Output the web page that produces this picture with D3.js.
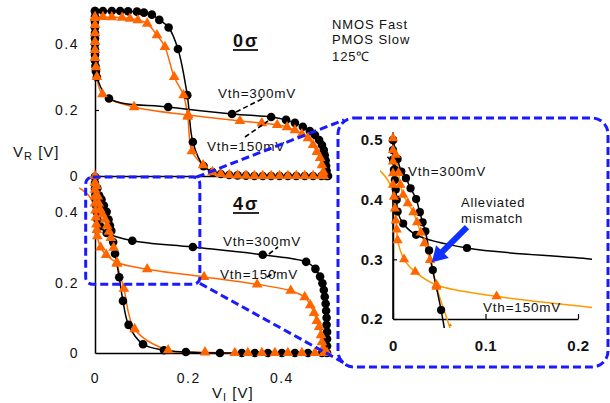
<!DOCTYPE html>
<html>
<head>
<meta charset="utf-8">
<script src="https://cdn.jsdelivr.net/npm/d3@7"></script>
<style>
body { margin: 0; background: #fff; }
text { font-family: "Liberation Sans", Arial, sans-serif; }
</style>
</head>
<body>
<div id="chart"></div>
<script>
// ---- data: [VI, VR] in volts ----
// 0 sigma, Vth = 300mV (black)
var s0_300_inv1 = [[0,0.5],[0.017,0.5],[0.036,0.5],[0.054,0.5],[0.071,0.499],[0.09,0.498],[0.105,0.495],[0.122,0.489],
  [0.138,0.473],[0.158,0.45],[0.178,0.385],[0.198,0.245],[0.21,0.103],[0.233,0.03],[0.252,0.012],[0.27,0.006],
  [0.288,0.003],[0.306,0.002],[0.324,0.001],[0.342,0],[0.36,0],[0.378,0],[0.396,0],[0.414,0],[0.432,0],[0.45,0],
  [0.468,0],[0.486,0],[0.5,0]];
var s0_300_inv2 = [[0,0.5],[0,0.483],[0,0.467],[0,0.45],[0,0.433],[0,0.417],[0,0.4],[0,0.383],[0,0.367],[0,0.35],
  [0.001,0.333],[0.002,0.317],[0.004,0.3],[0.03,0.235],[0.157,0.209],[0.294,0.188],[0.378,0.179],[0.41,0.17],
  [0.429,0.161],[0.446,0.149],[0.461,0.136],[0.472,0.124],[0.481,0.109],[0.487,0.094],[0.491,0.079],[0.493,0.063],
  [0.495,0.047],[0.496,0.031],[0.497,0.016],[0.497,0]];
// 0 sigma, Vth = 150mV (orange)
var s0_150_inv1 = [[0,0.482],[0.017,0.482],[0.036,0.481],[0.058,0.48],[0.075,0.477],[0.092,0.472],[0.112,0.462],
  [0.133,0.427],[0.15,0.391],[0.17,0.3],[0.19,0.245],[0.199,0.18],[0.208,0.075],[0.232,0.033],[0.252,0.012],
  [0.27,0.006],[0.288,0.003],[0.306,0.002],[0.324,0.001],[0.342,0],[0.36,0],[0.378,0],[0.396,0],[0.414,0],
  [0.432,0],[0.45,0],[0.468,0],[0.486,0]];
var s0_150_inv2 = [[0,0.479],[0,0.458],[0,0.433],[0,0.406],[0,0.382],[0,0.358],[0.002,0.33],[0.004,0.3],
  [0.016,0.248],[0.084,0.209],[0.2,0.185],[0.311,0.167],[0.358,0.16],[0.391,0.155],[0.412,0.148],[0.429,0.139],
  [0.444,0.127],[0.457,0.115],[0.468,0.094],[0.476,0.073],[0.483,0.055],[0.487,0.033],[0.49,0.012],[0.491,0]];

// 4 sigma, Vth = 300mV (black)
var s4_300_inv1 = [[0,0.5],[0.005,0.468],[0.009,0.447],[0.014,0.436],[0.019,0.419],[0.025,0.401],[0.029,0.379],
  [0.032,0.362],[0.035,0.347],[0.039,0.315],[0.043,0.282],[0.052,0.215],[0.06,0.148],[0.072,0.08],[0.103,0.025],
  [0.148,0.008],[0.195,0.003],[0.268,0],[0.315,0],[0.343,0],[0.371,0],[0.401,0],[0.429,0],[0.457,0],[0.487,0]];
var s4_300_inv2 = [[0,0.5],[0,0.483],[0,0.467],[0.001,0.45],[0.002,0.433],[0.003,0.417],[0.004,0.4],[0.005,0.38],
  [0.011,0.36],[0.025,0.341],[0.08,0.319],[0.21,0.301],[0.36,0.279],[0.453,0.259],[0.473,0.239],[0.483,0.217],
  [0.488,0.198],[0.491,0.179],[0.493,0.16],[0.495,0.14],[0.496,0.12],[0.497,0.1],[0.497,0.08],[0.498,0.06],
  [0.498,0.04],[0.498,0.02],[0.498,0]];
var s4_300_tail = [[-0.006,0.472],[0.004,0.455],[0.01,0.446]];
// 4 sigma, Vth = 150mV (orange)
var s4_150_inv1 = [[0,0.503],[0.003,0.475],[0.006,0.445],[0.008,0.425],[0.011,0.408],[0.016,0.394],[0.022,0.379],
  [0.026,0.362],[0.03,0.345],[0.034,0.327],[0.04,0.299],[0.047,0.254],[0.062,0.183],[0.085,0.068],[0.157,0.008],
  [0.236,0.002],[0.3,0],[0.328,0],[0.358,0],[0.386,0],[0.414,0],[0.444,0],[0.472,0],[0.498,0]];
var s4_150_inv2 = [[0,0.483],[0,0.464],[0,0.444],[0,0.425],[0.001,0.405],[0.002,0.385],[0.003,0.365],[0.004,0.35],
  [0.005,0.332],[0.012,0.3],[0.024,0.279],[0.047,0.257],[0.112,0.238],[0.234,0.216],[0.348,0.195],[0.42,0.177],
  [0.45,0.159],[0.462,0.136],[0.47,0.114],[0.476,0.091],[0.481,0.074],[0.485,0.051],[0.487,0.031],[0.49,0.014],
  [0.491,0]];
var s4_150_tail = [[-0.034,0.469],[-0.013,0.447],[0,0.415],[0.003,0.37]];

var mainTicks = [0, 0.2, 0.4];
var insetXTicks = [0, 0.1, 0.2];
var insetYTicks = [0.2, 0.3, 0.4, 0.5];
var zoomVI = [-0.02, 0.225];   // region blown up in the inset
var zoomVR = [0.195, 0.5];
var arrowFrom = [0.08, 0.354];  // "Alleviated mismatch" arrow, inset coords
var arrowTo = [0.042, 0.295];

var BLACK = "#000";
var ORANGE = "#ff6600";
var ORANGE_LIGHT = "#ff9900";
var BLUE = "#1a1aff";

var svg = d3.select("#chart")
    .append("svg")
    .attr("width", 610)
    .attr("height", 403);

// scales
var x = d3.scaleLinear().domain([0, 0.5]).range([95, 328]);
var yTop = d3.scaleLinear().domain([0, 0.5]).range([176, 11]);
var yBot = d3.scaleLinear().domain([0, 0.5]).range([353, 177]);
var xIn = d3.scaleLinear().domain([0, 0.2]).range([393, 578]);
var yIn = d3.scaleLinear().domain([0.2, 0.5]).range([319, 140]);

var fmt = function (d) { return d === 0 ? "0" : d3.format(".1f")(d); };

function styleAxis(g, size, bold, spacing) {
    g.select(".domain").attr("stroke-width", 1.5);
    g.selectAll(".tick line").attr("stroke-width", 1.2);
    g.selectAll("text")
        .attr("fill", "#111")
        .style("font-size", size + "px")
        .style("font-weight", bold ? "bold" : "normal")
        .style("letter-spacing", spacing + "px")
        .style("font-family", '"Liberation Sans", Arial, sans-serif');
}

// ---- axes ----
var topY = svg.append("g").attr("transform", "translate(95,0)")
    .call(d3.axisLeft(yTop).tickValues(mainTicks).tickFormat(fmt).tickSizeInner(-4).tickSizeOuter(0).tickPadding(16));
styleAxis(topY, 14, false, 1.5);
topY.select(".tick line").remove();

svg.append("g").attr("transform", "translate(0,176)")
    .call(d3.axisBottom(x).tickValues([]).tickSizeOuter(0))
    .select(".domain").attr("stroke-width", 1.5);

var botY = svg.append("g").attr("transform", "translate(95,0)")
    .call(d3.axisLeft(yBot).tickValues(mainTicks).tickFormat(fmt).tickSize(0).tickPadding(16));
styleAxis(botY, 14, false, 1.5);

var botX = svg.append("g").attr("transform", "translate(0,353)")
    .call(d3.axisBottom(x).tickValues(mainTicks).tickFormat(fmt).tickSize(0).tickPadding(20));
styleAxis(botX, 14, false, 1.5);

var inY = svg.append("g").attr("transform", "translate(393,0)")
    .call(d3.axisLeft(yIn).tickValues(insetYTicks).tickFormat(fmt).tickSizeInner(-4).tickSizeOuter(0).tickPadding(10));
styleAxis(inY, 15, true, 0.5);
inY.append("line")
    .attr("y1", yIn(0.2)).attr("y2", yIn(0.513))
    .attr("stroke", BLACK).attr("stroke-width", 1.5);

var inX = svg.append("g").attr("transform", "translate(0,319)")
    .call(d3.axisBottom(xIn).tickValues(insetXTicks).tickFormat(fmt).tickSizeInner(-5).tickSizeOuter(0).tickPadding(21));
styleAxis(inX, 15, true, 0.5);

// ---- curves ----
var defs = svg.append("defs");
defs.append("clipPath").attr("id", "inLines").append("rect")
    .attr("x", 380).attr("y", 128).attr("width", 212).attr("height", 200);
defs.append("clipPath").attr("id", "inMarks").append("rect")
    .attr("x", 381).attr("y", 128).attr("width", 201).attr("height", 198);

function drawLine(g, pts, xs, ys, color) {
    var line = d3.line()
        .x(d => xs(d[0]))
        .y(d => ys(d[1]))
        .curve(d3.curveCatmullRom.alpha(0.5));
    g.append("path")
        .datum(pts)
        .attr("d", line)
        .attr("fill", "none")
        .attr("stroke", color)
        .attr("stroke-width", 1.5);
}

function drawMarks(g, pts, xs, ys, shape, r) {
    if (shape === "circle") {
        g.selectAll(null)
            .data(pts)
            .enter()
            .append("circle")
            .attr("cx", d => xs(d[0]))
            .attr("cy", d => ys(d[1]))
            .attr("r", r)
            .attr("fill", BLACK);
    } else {
        var tri = d3.symbol().type(d3.symbolTriangle).size(r * r * 2.7);
        g.selectAll(null)
            .data(pts)
            .enter()
            .append("path")
            .attr("d", tri)
            .attr("transform", d => `translate(${xs(d[0])},${ys(d[1])})`)
            .attr("fill", ORANGE);
    }
}

function drawPlot(lineG, markG, set, xs, ys, r, orangeLine) {
    drawLine(lineG, set.o1, xs, ys, orangeLine);
    drawLine(lineG, set.o2, xs, ys, orangeLine);
    if (set.oTail) drawLine(lineG, set.oTail, xs, ys, orangeLine);
    drawLine(lineG, set.b1, xs, ys, BLACK);
    drawLine(lineG, set.b2, xs, ys, BLACK);
    if (set.bTail) drawLine(lineG, set.bTail, xs, ys, BLACK);
    drawMarks(markG, set.b1, xs, ys, "circle", r);
    drawMarks(markG, set.b2, xs, ys, "circle", r);
    drawMarks(markG, set.o1, xs, ys, "tri", r);
    drawMarks(markG, set.o2, xs, ys, "tri", r);
}

var set0 = { b1: s0_300_inv1, b2: s0_300_inv2, o1: s0_150_inv1, o2: s0_150_inv2 };
var set4 = { b1: s4_300_inv1, b2: s4_300_inv2, o1: s4_150_inv1, o2: s4_150_inv2,
             bTail: s4_300_tail, oTail: s4_150_tail };

var g0 = svg.append("g");
drawPlot(g0, g0, set0, x, yTop, 4.3, ORANGE);
var g4 = svg.append("g");
drawPlot(g4, g4, set4, x, yBot, 4.3, ORANGE);
var gInL = svg.append("g").attr("clip-path", "url(#inLines)");
var gInM = svg.append("g").attr("clip-path", "url(#inMarks)");
drawPlot(gInL, gInM, set4, xIn, yIn, 4.1, ORANGE_LIGHT);

// ---- labels ----
function label(txt, px, py, size, opts) {
    opts = opts || {};
    return svg.append("text")
        .attr("x", px).attr("y", py)
        .style("font-size", size + "px")
        .style("font-weight", opts.bold ? "bold" : "normal")
        .style("letter-spacing", (opts.ls || 0) + "px")
        .attr("fill", "#111")
        .text(txt);
}

label("NMOS Fast", 332, 29, 13, { ls: 0.9 });
label("PMOS Slow", 332, 44, 13, { ls: 0.9 });
label("125\u2103", 332, 61, 13, { ls: 0.9 });

label("0\u03c3", 233, 47, 18, { bold: true, ls: 2 });
svg.append("line").attr("x1", 233).attr("x2", 258).attr("y1", 50).attr("y2", 50)
    .attr("stroke", "#111").attr("stroke-width", 1.8);
label("4\u03c3", 233, 210, 18, { bold: true, ls: 2 });
svg.append("line").attr("x1", 233).attr("x2", 259).attr("y1", 213).attr("y2", 213)
    .attr("stroke", "#111").attr("stroke-width", 1.8);

label("Vth=300mV", 218, 98, 13.5, { ls: 0.8 });
label("Vth=150mV", 207, 151, 13.5, { ls: 0.8 });
label("Vth=300mV", 223, 246, 13.5, { ls: 0.8 });
label("Vth=150mV", 220, 279, 13.5, { ls: 0.8 });
label("Vth=300mV", 408, 176, 13.5, { ls: 0.8 });
label("Vth=150mV", 483, 312, 13.5, { ls: 0.8 });
label("Alleviated", 461, 207, 13, { ls: 0.8 });
label("mismatch", 461, 223, 13, { ls: 0.8 });

// leader lines
var leaders = [[262, 99, 236, 112], [245, 137, 268, 121], [269, 254, 278, 247], [267, 277, 276, 272]];
svg.selectAll(null).data(leaders).enter().append("line")
    .attr("x1", d => d[0]).attr("y1", d => d[1]).attr("x2", d => d[2]).attr("y2", d => d[3])
    .attr("stroke", BLACK).attr("stroke-width", 1.6).attr("stroke-dasharray", "5,3");

// axis titles
var vr = label("V", 13, 157, 15, { ls: 1 });
vr.append("tspan").attr("dy", 3).style("font-size", "11px").text("R");
vr.append("tspan").attr("dy", -3).text(" [V]");
var vi = label("V", 212, 398, 15, { ls: 1 });
vi.append("tspan").attr("dy", 3).style("font-size", "11px").text("I");
vi.append("tspan").attr("dy", -3).text(" [V]");

// ---- blue zoom frames ----
var bx0 = x(zoomVI[0]), bx1 = x(zoomVI[1]);
var by0 = yBot(zoomVR[1]), by1 = yBot(zoomVR[0]);
var blue = svg.append("g")
    .attr("fill", "none").attr("stroke", BLUE)
    .attr("stroke-width", 3).attr("stroke-dasharray", "8,4");
blue.append("rect").attr("x", bx0).attr("y", by0)
    .attr("width", bx1 - bx0).attr("height", by1 - by0).attr("rx", 7);
blue.append("rect").attr("x", 338).attr("y", 118)
    .attr("width", 270).attr("height", 249).attr("rx", 16);
blue.append("line").attr("x1", bx1 - 3).attr("y1", by0).attr("x2", 344).attr("y2", 120);
blue.append("line").attr("x1", bx1).attr("y1", by1 - 1).attr("x2", 346).attr("y2", 364);

// arrow
var ax0 = xIn(arrowFrom[0]), ay0 = yIn(arrowFrom[1]);
var ax1 = xIn(arrowTo[0]), ay1 = yIn(arrowTo[1]);
var len = Math.hypot(ax1 - ax0, ay1 - ay0);
var ux = (ax1 - ax0) / len, uy = (ay1 - ay0) / len;
var nx = -uy, ny = ux;
var hb = [ax1 - ux * 15, ay1 - uy * 15];
var pts = [
    [ax0 + nx * 3, ay0 + ny * 3],
    [hb[0] + nx * 3, hb[1] + ny * 3],
    [hb[0] + nx * 9, hb[1] + ny * 9],
    [ax1, ay1],
    [hb[0] - nx * 9, hb[1] - ny * 9],
    [hb[0] - nx * 3, hb[1] - ny * 3],
    [ax0 - nx * 3, ay0 - ny * 3]
];
svg.append("path")
    .attr("d", "M" + pts.map(p => p.join(",")).join("L") + "Z")
    .attr("fill", "#1030ff");
</script>
</body>
</html>
